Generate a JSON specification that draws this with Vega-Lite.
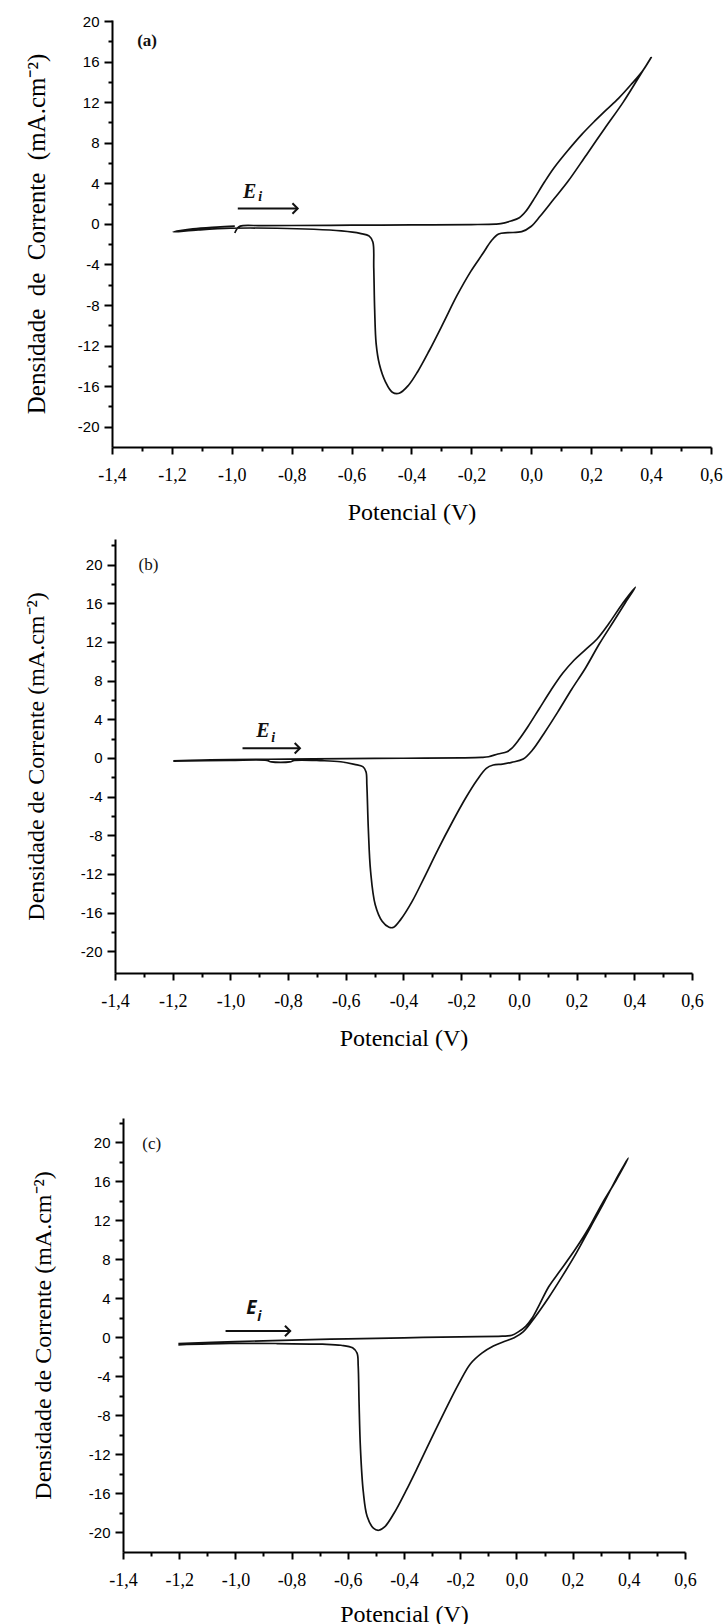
{
  "$schema": "https://vega.github.io/schema/vega-lite/v6.json",
  "background": "white",
  "padding": {"left": 0, "top": 14, "right": 0, "bottom": 0},
  "autosize": {"type": "pad"},
  "spacing": 0,
  "config": {
    "view": {"stroke": null},
    "axis": {
      "grid": false,
      "domainColor": "black",
      "domainWidth": 2,
      "tickColor": "black",
      "tickWidth": 2,
      "labelColor": "black",
      "titleColor": "black",
      "labelFlush": false,
      "labelOverlap": false,
      "titleFontWeight": "normal",
      "titleFont": "Liberation Serif, Times New Roman, serif",
      "titleFontSize": 24
    },
    "axisX": {"labelFont": "Liberation Serif, Times New Roman, serif", "labelFontSize": 18, "labelPadding": 12, "titlePadding": 16},
    "axisY": {"labelFont": "Liberation Sans, Arial, sans-serif", "labelFontSize": 15, "labelPadding": 5}
  },
  "datasets": {
    "curveA": [
      {"o":0,"v":-0.99,"j":-0.9},{"o":1,"v":-0.983,"j":-0.5},{"o":2,"v":-0.972,"j":-0.22},{"o":3,"v":-0.9,"j":-0.18},
      {"o":4,"v":-0.8,"j":-0.16},{"o":5,"v":-0.6,"j":-0.13},{"o":6,"v":-0.4,"j":-0.1},{"o":7,"v":-0.2,"j":-0.07},
      {"o":8,"v":-0.12,"j":-0.03},{"o":9,"v":-0.102,"j":0.02},{"o":10,"v":-0.071,"j":0.26},{"o":11,"v":-0.04,"j":0.6},
      {"o":12,"v":-0.017,"j":1.28},{"o":13,"v":0.006,"j":2.3},{"o":14,"v":0.045,"j":4.17},{"o":15,"v":0.076,"j":5.53},
      {"o":16,"v":0.122,"j":7.23},{"o":17,"v":0.168,"j":8.8},{"o":18,"v":0.214,"j":10.2},{"o":19,"v":0.245,"j":11.1},
      {"o":20,"v":0.292,"j":12.4},{"o":21,"v":0.335,"j":13.8},{"o":22,"v":0.372,"j":15.1},{"o":23,"v":0.4,"j":16.4},
      {"o":24,"v":0.36,"j":14.5},{"o":25,"v":0.307,"j":12.0},{"o":26,"v":0.245,"j":9.4},{"o":27,"v":0.184,"j":6.8},
      {"o":28,"v":0.122,"j":4.17},{"o":29,"v":0.076,"j":2.47},{"o":30,"v":0.03,"j":0.77},{"o":31,"v":-0.001,"j":-0.26},
      {"o":32,"v":-0.032,"j":-0.77},{"o":33,"v":-0.078,"j":-0.87},{"o":34,"v":-0.109,"j":-1.0},{"o":35,"v":-0.132,"j":-1.62},
      {"o":36,"v":-0.163,"j":-2.98},{"o":37,"v":-0.202,"j":-4.68},{"o":38,"v":-0.248,"j":-7.06},{"o":39,"v":-0.294,"j":-9.79},
      {"o":40,"v":-0.341,"j":-12.51},{"o":41,"v":-0.379,"j":-14.55},{"o":42,"v":-0.41,"j":-15.91},{"o":43,"v":-0.441,"j":-16.7},
      {"o":44,"v":-0.464,"j":-16.6},{"o":45,"v":-0.487,"j":-15.57},{"o":46,"v":-0.507,"j":-13.87},{"o":47,"v":-0.518,"j":-11.83},
      {"o":48,"v":-0.523,"j":-8.43},{"o":49,"v":-0.526,"j":-4.34},{"o":50,"v":-0.529,"j":-1.79},{"o":51,"v":-0.541,"j":-1.21},
      {"o":52,"v":-0.572,"j":-0.94},{"o":53,"v":-0.634,"j":-0.7},{"o":54,"v":-0.726,"j":-0.53},{"o":55,"v":-0.849,"j":-0.43},
      {"o":56,"v":-1.004,"j":-0.43},{"o":57,"v":-1.112,"j":-0.6},{"o":58,"v":-1.196,"j":-0.8},{"o":59,"v":-1.13,"j":-0.5},
      {"o":60,"v":-1.05,"j":-0.32},{"o":61,"v":-0.99,"j":-0.22}
    ],
    "curveB": [
      {"o":0,"v":-1.198,"j":-0.3},{"o":1,"v":-1.1,"j":-0.22},{"o":2,"v":-1.0,"j":-0.18},{"o":3,"v":-0.8,"j":-0.12},
      {"o":4,"v":-0.6,"j":-0.08},{"o":5,"v":-0.4,"j":-0.04},{"o":6,"v":-0.2,"j":0.0},{"o":7,"v":-0.13,"j":0.05},
      {"o":8,"v":-0.105,"j":0.12},{"o":9,"v":-0.073,"j":0.4},{"o":10,"v":-0.041,"j":0.64},{"o":11,"v":-0.025,"j":0.98},
      {"o":12,"v":-0.001,"j":1.84},{"o":13,"v":0.031,"j":3.22},{"o":14,"v":0.071,"j":5.11},{"o":15,"v":0.111,"j":7.0},
      {"o":16,"v":0.151,"j":8.72},{"o":17,"v":0.191,"j":10.1},{"o":18,"v":0.231,"j":11.2},{"o":19,"v":0.271,"j":12.3},
      {"o":20,"v":0.312,"j":13.9},{"o":21,"v":0.36,"j":16.0},{"o":22,"v":0.404,"j":17.66},{"o":23,"v":0.37,"j":16.1},
      {"o":24,"v":0.328,"j":14.1},{"o":25,"v":0.279,"j":11.8},{"o":26,"v":0.231,"j":9.3},{"o":27,"v":0.183,"j":7.1},
      {"o":28,"v":0.135,"j":4.76},{"o":29,"v":0.087,"j":2.53},{"o":30,"v":0.047,"j":0.81},{"o":31,"v":0.015,"j":-0.12},
      {"o":32,"v":-0.025,"j":-0.46},{"o":33,"v":-0.057,"j":-0.64},{"o":34,"v":-0.089,"j":-0.74},{"o":35,"v":-0.113,"j":-1.08},
      {"o":36,"v":-0.145,"j":-2.29},{"o":37,"v":-0.185,"j":-4.18},{"o":38,"v":-0.233,"j":-6.76},{"o":39,"v":-0.281,"j":-9.51},
      {"o":40,"v":-0.329,"j":-12.43},{"o":41,"v":-0.37,"j":-14.84},{"o":42,"v":-0.41,"j":-16.73},{"o":43,"v":-0.434,"j":-17.52},
      {"o":44,"v":-0.45,"j":-17.52},{"o":45,"v":-0.474,"j":-16.9},{"o":46,"v":-0.498,"j":-15.19},{"o":47,"v":-0.514,"j":-11.75},
      {"o":48,"v":-0.522,"j":-7.27},{"o":49,"v":-0.527,"j":-2.8},{"o":50,"v":-0.53,"j":-1.43},{"o":51,"v":-0.541,"j":-0.91},
      {"o":52,"v":-0.57,"j":-0.67},{"o":53,"v":-0.618,"j":-0.4},{"o":54,"v":-0.682,"j":-0.29},{"o":55,"v":-0.778,"j":-0.26},
      {"o":56,"v":-0.794,"j":-0.42},{"o":57,"v":-0.858,"j":-0.42},{"o":58,"v":-0.874,"j":-0.26},{"o":59,"v":-1.003,"j":-0.26},
      {"o":60,"v":-1.198,"j":-0.33}
    ],
    "curveC": [
      {"o":0,"v":-1.203,"j":-0.65},{"o":1,"v":-1.0,"j":-0.45},{"o":2,"v":-0.8,"j":-0.3},{"o":3,"v":-0.6,"j":-0.17},
      {"o":4,"v":-0.4,"j":-0.06},{"o":5,"v":-0.2,"j":0.04},{"o":6,"v":-0.05,"j":0.1},{"o":7,"v":-0.016,"j":0.2},
      {"o":8,"v":0.008,"j":0.57},{"o":9,"v":0.033,"j":1.12},{"o":10,"v":0.058,"j":2.05},{"o":11,"v":0.082,"j":3.34},
      {"o":12,"v":0.115,"j":5.18},{"o":13,"v":0.156,"j":6.84},{"o":14,"v":0.206,"j":8.87},{"o":15,"v":0.255,"j":11.08},
      {"o":16,"v":0.304,"j":13.66},{"o":17,"v":0.354,"j":16.06},{"o":18,"v":0.398,"j":18.38},{"o":19,"v":0.362,"j":16.61},
      {"o":20,"v":0.312,"j":13.84},{"o":21,"v":0.263,"j":11.26},{"o":22,"v":0.214,"j":8.68},{"o":23,"v":0.164,"j":6.29},
      {"o":24,"v":0.115,"j":4.07},{"o":25,"v":0.066,"j":2.05},{"o":26,"v":0.025,"j":0.57},{"o":27,"v":-0.008,"j":-0.06},
      {"o":28,"v":-0.041,"j":-0.42},{"o":29,"v":-0.082,"j":-0.9},{"o":30,"v":-0.123,"j":-1.64},{"o":31,"v":-0.164,"j":-2.75},
      {"o":32,"v":-0.205,"j":-4.77},{"o":33,"v":-0.254,"j":-7.54},{"o":34,"v":-0.304,"j":-10.49},{"o":35,"v":-0.353,"j":-13.44},
      {"o":36,"v":-0.394,"j":-15.83},{"o":37,"v":-0.435,"j":-18.05},{"o":38,"v":-0.468,"j":-19.45},{"o":39,"v":-0.49,"j":-19.82},
      {"o":40,"v":-0.509,"j":-19.6},{"o":41,"v":-0.531,"j":-18.41},{"o":42,"v":-0.545,"j":-15.83},{"o":43,"v":-0.555,"j":-11.41},
      {"o":44,"v":-0.56,"j":-6.62},{"o":45,"v":-0.563,"j":-2.93},{"o":46,"v":-0.567,"j":-1.64},{"o":47,"v":-0.583,"j":-1.09},
      {"o":48,"v":-0.624,"j":-0.83},{"o":49,"v":-0.69,"j":-0.72},{"o":50,"v":-0.854,"j":-0.65},{"o":51,"v":-1.019,"j":-0.65},
      {"o":52,"v":-1.203,"j":-0.79}
    ]
  },
  "vconcat": [
    {
      "spacing": 0,
      "hconcat": [
        {"width": 24, "height": 10, "data": {"values": []}, "mark": "point"},
        {
          "width": 599,
          "height": 427,
          "encoding": {
            "x": {"field": "v", "type": "quantitative",
              "scale": {"domain": [-1.4, 0.6], "nice": false, "zero": false},
              "axis": {"title": "Potencial (V)",
                "labelFont": "Liberation Serif, Times New Roman, serif", "titleFont": "Liberation Serif, Times New Roman, serif",
                "values": [-1.4,-1.3,-1.2,-1.1,-1.0,-0.9,-0.8,-0.7,-0.6,-0.5,-0.4,-0.3,-0.2,-0.1,0,0.1,0.2,0.3,0.4,0.5,0.6],
                "labelExpr": "abs(round(datum.value*10)) % 2 == 0 ? replace(replace(format(datum.value, '.1f'), '.', ','), '\u2212', '-') : ''",
                "tickSize": {"condition": {"test": "abs(round(datum.value*10)) % 2 == 0", "value": 7}, "value": 4}}},
            "y": {"field": "j", "type": "quantitative",
              "scale": {"domain": [-22, 20.1], "nice": false, "zero": false},
              "axis": {"title": "Densidade \u00a0de \u00a0Corrente \u00a0(mA.cm\u207b\u00b2)", "titleFontSize": 25, "titlePadding": 28,
                "titleFont": "Liberation Serif, Times New Roman, serif", "labelFont": "Liberation Sans, Arial, sans-serif",
                "values": [-20,-18,-16,-14,-12,-10,-8,-6,-4,-2,0,2,4,6,8,10,12,14,16,18,20],
                "labelExpr": "datum.value % 4 == 0 ? replace(format(datum.value, 'd'), '\u2212', '-') : ''",
                "tickSize": {"condition": {"test": "datum.value % 4 == 0", "value": 8}, "value": 4}}}
          },
          "layer": [
            {"data": {"name": "curveA"}, "mark": {"type": "line", "color": "#111111", "strokeWidth": 1.7, "interpolate": "catmull-rom"},
             "encoding": {"order": {"field": "o", "type": "quantitative"}}},
            {"data": {"values": [{"v": -1.283, "j": 18.0, "t": "(a)"}]},
             "mark": {"type": "text", "font": "Liberation Serif, Times New Roman, serif", "fontSize": 17, "fontWeight": "bold", "color": "#111111"},
             "encoding": {"text": {"field": "t"}}},
            {"data": {"values": [{"v": -0.94, "j": 3.19, "t": "E"}]},
             "mark": {"type": "text", "font": "Liberation Serif, Times New Roman, serif", "fontSize": 20, "fontWeight": "bold", "fontStyle": "italic", "color": "#111111"},
             "encoding": {"text": {"field": "t"}}},
            {"data": {"values": [{"v": -0.905, "j": 2.6, "t": "i"}]},
             "mark": {"type": "text", "font": "Liberation Serif, Times New Roman, serif", "fontSize": 14, "fontWeight": "bold", "fontStyle": "italic", "color": "#111111"},
             "encoding": {"text": {"field": "t"}}},
            {"data": {"values": [{"v": -0.98, "v2": -0.78, "j": 1.51}]},
             "mark": {"type": "rule", "color": "#111111", "strokeWidth": 2},
             "encoding": {"x2": {"field": "v2"}}},
            {"data": {"values": [{"v": -0.78, "j": 1.51}]},
             "mark": {"type": "point", "shape": "M-1,-1L0,0L-1,1", "size": 110, "filled": false, "color": "#111111", "strokeWidth": 2, "opacity": 1}}
          ]
        }
      ]
    },
    {"width": 10, "height": 14, "data": {"values": []}, "mark": "point"},
    {
      "spacing": 0,
      "hconcat": [
        {"width": 24, "height": 10, "data": {"values": []}, "mark": "point"},
        {
          "width": 577,
          "height": 434,
          "encoding": {
            "x": {"field": "v", "type": "quantitative",
              "scale": {"domain": [-1.4, 0.6], "nice": false, "zero": false},
              "axis": {"title": "Potencial (V)",
                "labelFont": "Liberation Serif, Times New Roman, serif", "titleFont": "Liberation Serif, Times New Roman, serif",
                "values": [-1.4,-1.3,-1.2,-1.1,-1.0,-0.9,-0.8,-0.7,-0.6,-0.5,-0.4,-0.3,-0.2,-0.1,0,0.1,0.2,0.3,0.4,0.5,0.6],
                "labelExpr": "abs(round(datum.value*10)) % 2 == 0 ? replace(replace(format(datum.value, '.1f'), '.', ','), '\u2212', '-') : ''",
                "tickSize": {"condition": {"test": "abs(round(datum.value*10)) % 2 == 0", "value": 7}, "value": 4}}},
            "y": {"field": "j", "type": "quantitative",
              "scale": {"domain": [-22.25, 22.64], "nice": false, "zero": false},
              "axis": {"title": "Densidade de Corrente (mA.cm\u207b\u00b2)", "titlePadding": 32,
                "titleFont": "Liberation Serif, Times New Roman, serif", "labelFont": "Liberation Sans, Arial, sans-serif",
                "values": [-20,-18,-16,-14,-12,-10,-8,-6,-4,-2,0,2,4,6,8,10,12,14,16,18,20,22],
                "labelExpr": "datum.value % 4 == 0 ? replace(format(datum.value, 'd'), '\u2212', '-') : ''",
                "tickSize": {"condition": {"test": "datum.value % 4 == 0", "value": 8}, "value": 4}}}
          },
          "layer": [
            {"data": {"name": "curveB"}, "mark": {"type": "line", "color": "#111111", "strokeWidth": 1.7, "interpolate": "catmull-rom"},
             "encoding": {"order": {"field": "o", "type": "quantitative"}}},
            {"data": {"values": [{"v": -1.284, "j": 20.0, "t": "(b)"}]},
             "mark": {"type": "text", "font": "Liberation Serif, Times New Roman, serif", "fontSize": 17, "color": "#111111"},
             "encoding": {"text": {"field": "t"}}},
            {"data": {"values": [{"v": -0.887, "j": 2.76, "t": "E"}]},
             "mark": {"type": "text", "font": "Liberation Serif, Times New Roman, serif", "fontSize": 20, "fontWeight": "bold", "fontStyle": "italic", "color": "#111111"},
             "encoding": {"text": {"field": "t"}}},
            {"data": {"values": [{"v": -0.852, "j": 2.07, "t": "i"}]},
             "mark": {"type": "text", "font": "Liberation Serif, Times New Roman, serif", "fontSize": 14, "fontWeight": "bold", "fontStyle": "italic", "color": "#111111"},
             "encoding": {"text": {"field": "t"}}},
            {"data": {"values": [{"v": -0.958, "v2": -0.759, "j": 1.0}]},
             "mark": {"type": "rule", "color": "#111111", "strokeWidth": 2},
             "encoding": {"x2": {"field": "v2"}}},
            {"data": {"values": [{"v": -0.759, "j": 1.0}]},
             "mark": {"type": "point", "shape": "M-1,-1L0,0L-1,1", "size": 110, "filled": false, "color": "#111111", "strokeWidth": 2, "opacity": 1}}
          ]
        }
      ]
    },
    {"width": 10, "height": 65, "data": {"values": []}, "mark": "point"},
    {
      "spacing": 0,
      "hconcat": [
        {"width": 31, "height": 10, "data": {"values": []}, "mark": "point"},
        {
          "width": 562,
          "height": 434,
          "encoding": {
            "x": {"field": "v", "type": "quantitative",
              "scale": {"domain": [-1.4, 0.6], "nice": false, "zero": false},
              "axis": {"title": "Potencial (V)", "titlePadding": 13,
                "labelFont": "Liberation Serif, Times New Roman, serif", "titleFont": "Liberation Serif, Times New Roman, serif",
                "values": [-1.4,-1.3,-1.2,-1.1,-1.0,-0.9,-0.8,-0.7,-0.6,-0.5,-0.4,-0.3,-0.2,-0.1,0,0.1,0.2,0.3,0.4,0.5,0.6],
                "labelExpr": "abs(round(datum.value*10)) % 2 == 0 ? replace(replace(format(datum.value, '.1f'), '.', ','), '\u2212', '-') : ''",
                "tickSize": {"condition": {"test": "abs(round(datum.value*10)) % 2 == 0", "value": 7}, "value": 4}}},
            "y": {"field": "j", "type": "quantitative",
              "scale": {"domain": [-22.05, 22.5], "nice": false, "zero": false},
              "axis": {"title": "Densidade de Corrente (mA.cm\u207b\u00b2)", "titlePadding": 33,
                "titleFont": "Liberation Serif, Times New Roman, serif", "labelFont": "Liberation Sans, Arial, sans-serif",
                "values": [-20,-18,-16,-14,-12,-10,-8,-6,-4,-2,0,2,4,6,8,10,12,14,16,18,20,22],
                "labelExpr": "datum.value % 4 == 0 ? replace(format(datum.value, 'd'), '\u2212', '-') : ''",
                "tickSize": {"condition": {"test": "datum.value % 4 == 0", "value": 8}, "value": 4}}}
          },
          "layer": [
            {"data": {"name": "curveC"}, "mark": {"type": "line", "color": "#111111", "strokeWidth": 1.7, "interpolate": "catmull-rom"},
             "encoding": {"order": {"field": "o", "type": "quantitative"}}},
            {"data": {"values": [{"v": -1.298, "j": 19.8, "t": "(c)"}]},
             "mark": {"type": "text", "font": "Liberation Serif, Times New Roman, serif", "fontSize": 17, "color": "#111111"},
             "encoding": {"text": {"field": "t"}}},
            {"data": {"values": [{"v": -0.943, "j": 2.97, "t": "E"}]},
             "mark": {"type": "text", "font": "Open Sans", "fontSize": 19, "fontWeight": "bold", "fontStyle": "italic", "color": "#111111"},
             "encoding": {"text": {"field": "t"}}},
            {"data": {"values": [{"v": -0.915, "j": 2.1, "t": "i"}]},
             "mark": {"type": "text", "font": "Open Sans", "fontSize": 14, "fontWeight": "bold", "fontStyle": "italic", "color": "#111111"},
             "encoding": {"text": {"field": "t"}}},
            {"data": {"values": [{"v": -1.035, "v2": -0.805, "j": 0.63}]},
             "mark": {"type": "rule", "color": "#111111", "strokeWidth": 2},
             "encoding": {"x2": {"field": "v2"}}},
            {"data": {"values": [{"v": -0.805, "j": 0.63}]},
             "mark": {"type": "point", "shape": "M-1,-1L0,0L-1,1", "size": 110, "filled": false, "color": "#111111", "strokeWidth": 2, "opacity": 1}}
          ]
        }
      ]
    }
  ]
}
